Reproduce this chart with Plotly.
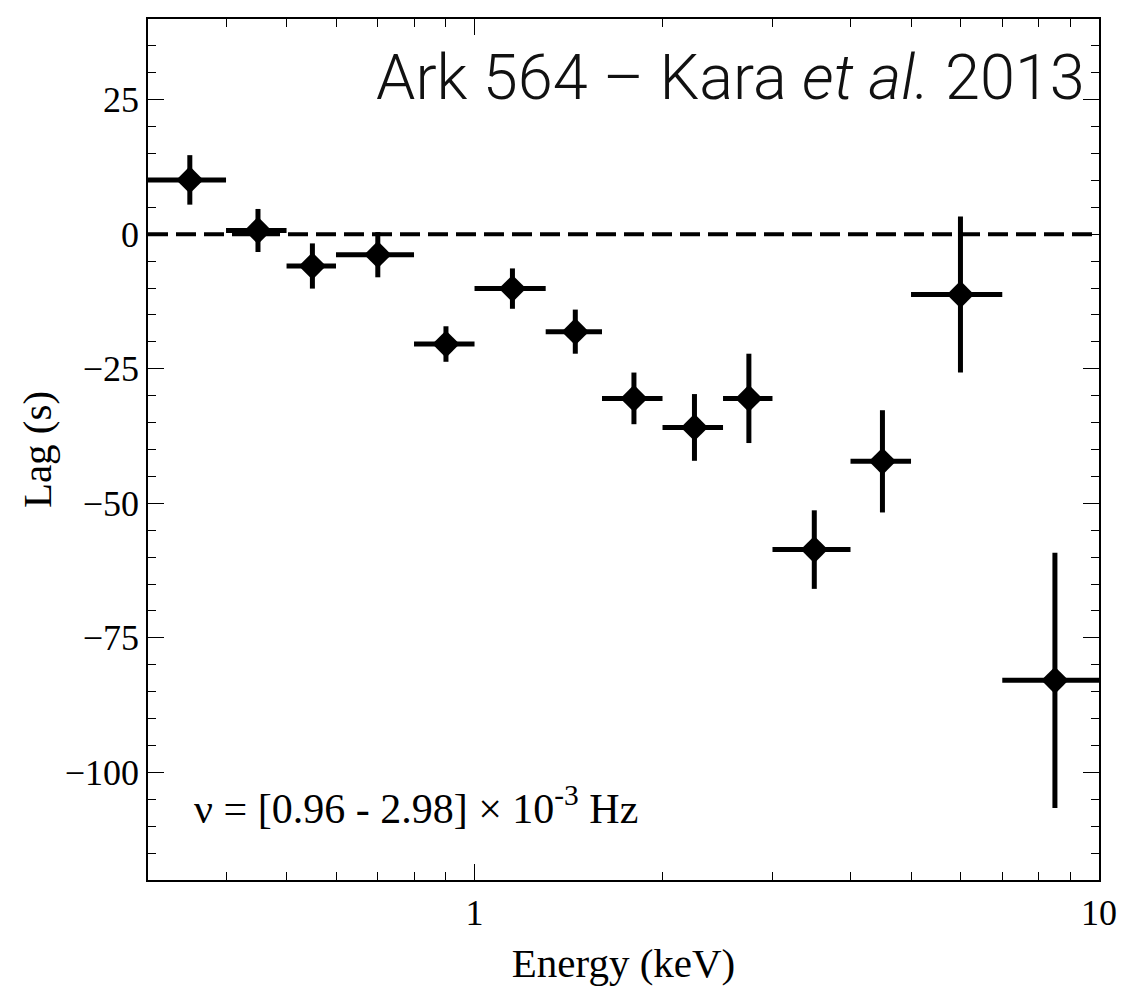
import plotly.graph_objects as go

# Energy bins (keV): centre, lower and upper edges
energy = [0.35, 0.45, 0.55, 0.7, 0.9, 1.15, 1.45, 1.8, 2.25, 2.75, 3.5, 4.5, 6.0, 8.5]
e_lo = [0.3, 0.4, 0.5, 0.6, 0.8, 1.0, 1.3, 1.6, 2.0, 2.5, 3.0, 4.0, 5.0, 7.0]
e_hi = [0.4, 0.5, 0.6, 0.8, 1.0, 1.3, 1.6, 2.0, 2.5, 3.0, 4.0, 5.0, 7.0, 10.0]

# Lag (s) and 1-sigma uncertainty
lag = [10.1, 0.7, -5.9, -3.8, -20.4, -10.1, -18.1, -30.5, -35.9, -30.5, -58.6, -42.2, -11.2, -82.9]
lag_err = [4.6, 4.0, 4.2, 4.2, 3.3, 3.75, 4.1, 4.8, 6.2, 8.3, 7.3, 9.5, 14.5, 23.7]

x_major = [1, 10]
x_minor = [0.4, 0.5, 0.6, 0.7, 0.8, 0.9, 2, 3, 4, 5, 6, 7, 8, 9]

err_plus = [h - c for h, c in zip(e_hi, energy)]
err_minus = [c - l for c, l in zip(energy, e_lo)]

serif = "Liberation Serif, Times New Roman, serif"

fig = go.Figure()

fig.add_trace(go.Scatter(
    x=energy,
    y=lag,
    mode="markers",
    marker=dict(symbol="diamond", size=21, color="black", line=dict(width=0)),
    error_x=dict(type="data", symmetric=False, array=err_plus, arrayminus=err_minus,
                 color="black", thickness=5, width=0),
    error_y=dict(type="data", array=lag_err, color="black", thickness=5, width=0),
    showlegend=False,
))

# zero-lag reference line
fig.add_shape(type="line", xref="paper", yref="y", x0=0, x1=1, y0=0, y1=0,
              line=dict(color="black", width=4, dash="20px,8px"), layer="below")

fig.add_annotation(
    text="Ark 564 – Kara <i>et al.</i> 2013",
    xref="paper", yref="paper", x=0.9875, y=0.932,
    xanchor="right", yanchor="middle", showarrow=False,
    font=dict(family="Roboto, Lato, sans-serif", size=63, color="#111111", weight=300),
)

fig.add_annotation(
    text="ν = [0.96 - 2.98] × 10<sup>-3</sup> Hz",
    xref="paper", yref="paper", x=0.046, y=0.087,
    xanchor="left", yanchor="middle", showarrow=False,
    font=dict(family=serif, size=42, color="black"),
)

axis_common = dict(
    showline=True, linecolor="black", linewidth=1.5, mirror="ticks",
    ticks="inside", ticklen=16, tickwidth=1.2, tickcolor="black",
    showgrid=False, zeroline=False,
    tickfont=dict(family=serif, size=36, color="black"),
)

fig.update_xaxes(
    type="log", range=[-0.5229, 1.0],
    tickmode="array", tickvals=x_major, ticktext=["1", "10"],
    minor=dict(tickmode="array", tickvals=x_minor, ticks="inside", ticklen=8,
               tickwidth=1.2, tickcolor="black", showgrid=False),
    title=dict(text="Energy (keV)", font=dict(family=serif, size=41, color="black"),
               standoff=16),
    **axis_common,
)

fig.update_yaxes(
    range=[-120, 40], tickmode="linear", tick0=0, dtick=25,
    minor=dict(dtick=5, ticks="inside", ticklen=8, tickwidth=1.2,
               tickcolor="black", showgrid=False),
    title=dict(text="Lag (s)", font=dict(family=serif, size=41, color="black"),
               standoff=0),
    **axis_common,
)

fig.update_layout(
    width=1129, height=990,
    margin=dict(l=148, r=23, t=19, b=107),
    paper_bgcolor="white", plot_bgcolor="white",
)

fig.write_html("out.html")
